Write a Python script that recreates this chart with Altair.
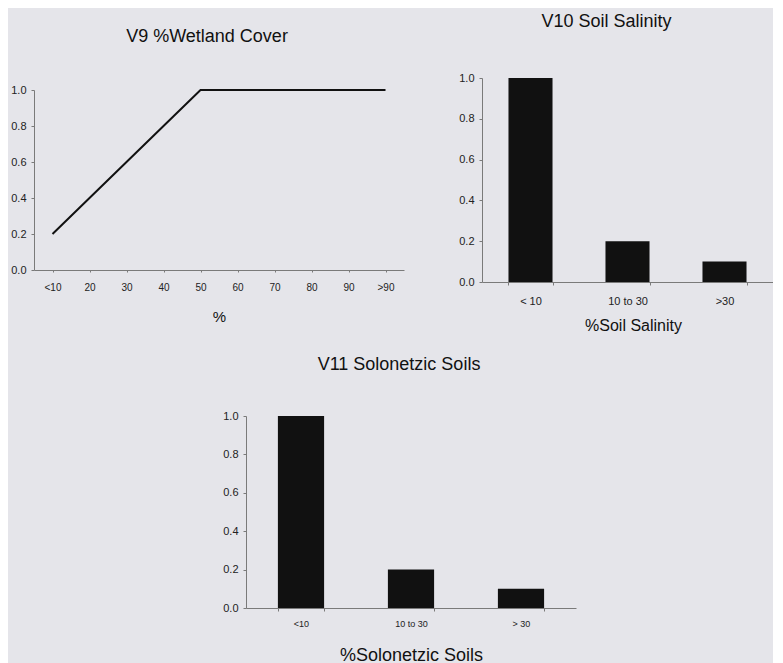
import altair as alt
import pandas as pd

# ---- data ----
wet_cats = ["<10", "20", "30", "40", "50", "60", "70", "80", "90", ">90"]
wet_vals = [0.2, 0.4, 0.6, 0.8, 1.0, 1.0, 1.0, 1.0, 1.0, 1.0]

sal_cats = ["< 10", "10 to 30", ">30"]
sal_vals = [1.0, 0.2, 0.1]

sol_cats = ["<10", "10 to 30", "> 30"]
sol_vals = [1.0, 0.2, 0.1]

y_ticks = [0.0, 0.2, 0.4, 0.6, 0.8, 1.0]

FONT = "Liberation Sans"
AXIS_COLOR = "#7a7a7a"
LABEL_COLOR = "#222222"
INK = "#111111"
BG = "#e5e5ea"


def y_axis():
    return alt.Axis(values=y_ticks, format=".1f", grid=False, title=None,
                    domainColor=AXIS_COLOR, tickColor=AXIS_COLOR, tickSize=3,
                    labelPadding=5, labelFontSize=11, labelFont=FONT,
                    labelColor=LABEL_COLOR)


def x_axis(title, title_y, title_size, label_size, label_pad, tick_size, tick_band=None, title_x=None):
    kw = dict(title=title, labelAngle=0, grid=False,
              domainColor=AXIS_COLOR, tickColor=AXIS_COLOR, tickSize=tick_size,
              labelPadding=label_pad, labelFontSize=label_size, labelFont=FONT,
              labelColor=LABEL_COLOR, titleFont=FONT, titleFontSize=title_size,
              titleFontWeight="normal", titleColor=INK, titleY=title_y,
              titleBaseline="middle")
    if tick_band:
        kw["tickBand"] = tick_band
    if title_x is not None:
        kw["titleX"] = title_x
    return alt.Axis(**kw)


def title(text, offset, dx, size=18):
    return alt.Title(text=text, fontSize=size, font=FONT, fontWeight="normal",
                     color=INK, offset=offset, dx=dx, anchor="middle")


# ---- V9 line ----
df1 = pd.DataFrame({"cat": wet_cats, "v": wet_vals})
p1 = alt.Chart(df1, title=title("V9 %Wetland Cover", 32, -12)).mark_line(
    color=INK, strokeWidth=2
).encode(
    x=alt.X("cat:N", sort=wet_cats, scale=alt.Scale(type="point", padding=0.5),
            axis=x_axis("%", 46, 15, 10, 10, 2)),
    y=alt.Y("v:Q", scale=alt.Scale(domain=[0, 1], range=[192, 12]), axis=y_axis()),
).properties(width=370, height=192)

# ---- V10 bars ----
df2 = pd.DataFrame({"cat": sal_cats, "v": sal_vals})
p2 = alt.Chart(df2, title=title("V10 Soil Salinity", 41, -21)).mark_bar(color=INK).encode(
    x=alt.X("cat:N", sort=sal_cats,
            scale=alt.Scale(paddingInner=0.546, paddingOuter=0.273),
            axis=x_axis("%Soil Salinity", 43, 16, 11, 10, 3, "extent", 151)),
    y=alt.Y("v:Q", scale=alt.Scale(domain=[0, 1]), axis=y_axis()),
).properties(width=291, height=204)

# ---- V11 bars ----
df3 = pd.DataFrame({"cat": sol_cats, "v": sol_vals})
p3 = alt.Chart(df3, title=title("V11 Solonetzic Soils", 36, -12)).mark_bar(color=INK).encode(
    x=alt.X("cat:N", sort=sol_cats,
            scale=alt.Scale(paddingInner=0.58, paddingOuter=0.29),
            axis=x_axis("%Solonetzic Soils", 47, 18, 9, 8, 3, "extent")),
    y=alt.Y("v:Q", scale=alt.Scale(domain=[0, 1]), axis=y_axis()),
).properties(width=330, height=192)

spacer = alt.Chart(pd.DataFrame({"s": [0]})).mark_rect(opacity=0).encode(
    x=alt.value(0), x2=alt.value(188), y=alt.value(0), y2=alt.value(10)
).properties(width=188, height=10)

top = alt.hconcat(p1, p2, spacing=54)
bottom = alt.hconcat(spacer, p3, spacing=0)

chart = alt.vconcat(top, bottom, spacing=23).properties(
    background=BG,
    padding={"left": 2, "top": 5, "right": 0, "bottom": 0},
).configure_view(stroke=None)

chart.save("out.html", embed_options={"renderer": "svg", "actions": False})
